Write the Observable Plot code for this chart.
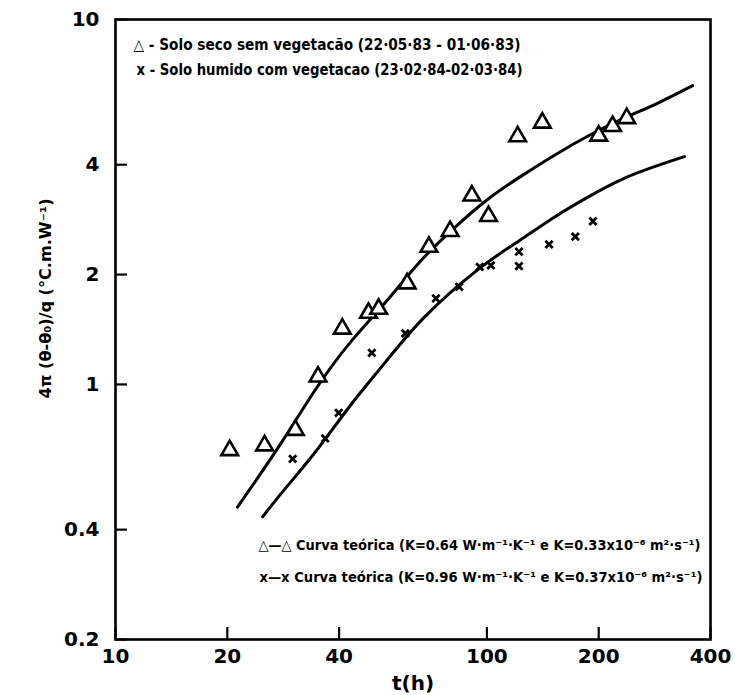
<!DOCTYPE html>
<html>
<head>
<meta charset="utf-8">
<script src="https://cdn.jsdelivr.net/npm/d3@7"></script>
<script src="https://cdn.jsdelivr.net/npm/@observablehq/plot@0.6"></script>
<style>
  body { margin: 0; background: #fff; }
  #chart svg { overflow: visible; }
</style>
</head>
<body>
<div id="chart"></div>
<script>
// Axis ticks (log-log)
const xTicks = [10, 20, 40, 100, 200, 400];
const yTicks = [0.2, 0.4, 1, 2, 4, 10];

// Solo seco sem vegetação (22-05-83 a 01-06-83): tempo (h) e 4π(θ-θ0)/q
const secoT = [20.3, 25.2, 30.5, 35.1, 40.8, 48.0, 51.1, 61.0, 69.8, 79.6, 91.1, 101, 121, 141, 200, 218, 238];
const secoV = [0.66, 0.68, 0.75, 1.05, 1.42, 1.57, 1.61, 1.89, 2.38, 2.63, 3.29, 2.89, 4.78, 5.21, 4.80, 5.10, 5.36];

// Solo húmido com vegetação (23-02-84 a 02-03-84)
const humidoT = [30.0, 36.7, 39.9, 49.0, 60.3, 72.9, 84.2, 95.7, 102.5, 122, 122, 147, 173, 193];
const humidoV = [0.625, 0.711, 0.836, 1.22, 1.38, 1.72, 1.85, 2.10, 2.12, 2.31, 2.11, 2.42, 2.54, 2.80];

// Curvas teóricas
const teoSecoT = [21.3, 28.2, 34.9, 43.3, 53.4, 65.9, 81.7, 100.6, 123.9, 153.4, 188.9, 232.2, 287.5, 358];
const teoSecoV = [0.461, 0.696, 0.994, 1.334, 1.668, 2.19, 2.69, 3.24, 3.73, 4.28, 4.83, 5.36, 5.87, 6.59];
const teoHumidoT = [24.9, 28.1, 34.7, 43.1, 53.1, 65.5, 95.7, 122.9, 152.4, 187.5, 230.8, 285.6, 340.4];
const teoHumidoV = [0.434, 0.508, 0.651, 0.889, 1.141, 1.50, 2.11, 2.48, 2.89, 3.27, 3.67, 3.97, 4.21];

// Texts
const yTitle = "4π (θ-θ₀)/q (°C.m.W⁻¹)";
const xTitle = "t(h)";
const legendSeco = "△ - Solo seco sem vegetacão (22·05·83 - 01·06·83)";
const legendHumido = "x - Solo humido com vegetacao (23·02·84-02·03·84)";
const curvaSeco = "△—△ Curva teórica (K=0.64 W·m⁻¹·K⁻¹ e K=0.33x10⁻⁶ m²·s⁻¹)";
const curvaHumido = "x—x Curva teórica (K=0.96 W·m⁻¹·K⁻¹ e K=0.37x10⁻⁶ m²·s⁻¹)";

const toRows = (ts, vs) => ts.map((t, i) => ({t, v: vs[i]}));
const seco = toRows(secoT, secoV);
const humido = toRows(humidoT, humidoV);
const teoSeco = toRows(teoSecoT, teoSecoV);
const teoHumido = toRows(teoHumidoT, teoHumidoV);

const narrow = "'DejaVu Sans Condensed', 'DejaVu Sans'";

// a single line of text anchored to the top-left corner of the frame
const note = (s, dx, dy, size) => Plot.text([s], {
  frameAnchor: "top-left", dx, dy, text: d => d, textAnchor: "start",
  lineAnchor: "middle", fontSize: size, fontFamily: narrow, fontWeight: "bold", fill: "#000"
});

const chart = Plot.plot({
  width: 740,
  height: 695,
  marginLeft: 115,
  marginRight: 30,
  marginTop: 19,
  marginBottom: 56,
  style: {fontFamily: "DejaVu Sans", fontWeight: "bold", color: "#000", background: "#fff"},
  x: {type: "log", domain: [10, 400]},
  y: {type: "log", domain: [0.2, 10]},
  marks: [
    Plot.frame({stroke: "#000", strokeWidth: 2.6}),
    // inward tick marks
    Plot.axisX({ticks: xTicks, tickSize: 12, dy: -12, strokeWidth: 2.2, tickFormat: () => "", label: null}),
    Plot.axisY({ticks: yTicks, tickSize: 12, dx: 12, strokeWidth: 2.2, tickFormat: () => "", label: null}),
    // tick labels
    Plot.axisX({ticks: xTicks, tickSize: 0, tickPadding: 9, tickFormat: d => String(d), fontSize: 20,
      label: xTitle, labelAnchor: "center", labelArrow: "none", labelOffset: 50}),
    Plot.axisY({ticks: yTicks, tickSize: 0, tickPadding: 16, tickFormat: d => String(d), fontSize: 20, label: null}),
    // y title, rotated
    Plot.text([yTitle], {frameAnchor: "left", dx: -70, dy: -31, rotate: -90, text: d => d, textAnchor: "middle",
      fontSize: 16, fontFamily: narrow, fontWeight: "bold", fill: "#000"}),
    // theoretical curves
    Plot.line(teoSeco, {x: "t", y: "v", curve: "basis", stroke: "#000", strokeWidth: 3}),
    Plot.line(teoHumido, {x: "t", y: "v", curve: "basis", stroke: "#000", strokeWidth: 3}),
    // measurements
    Plot.dot(seco, {x: "t", y: "v", symbol: "triangle", r: 6.2, stroke: "#000", strokeWidth: 2.6, fill: "#fff"}),
    Plot.dot(humido, {x: "t", y: "v", symbol: "times", r: 3.4, stroke: "#000", strokeWidth: 2.8}),
    // legends
    note(legendSeco, 18, 26, 15.5),
    note(legendHumido, 21, 51, 15.5),
    note(curvaSeco, 143, 526, 14.5),
    note(curvaHumido, 144, 558, 14.5)
  ]
});

// narrow lettering: fit the legend lines and the y title to their set widths
const widths = new Map([[legendSeco, 387], [legendHumido, 386], [curvaSeco, 442], [curvaHumido, 443], [yTitle, 200]]);
d3.select(chart).selectAll("text").each(function () {
  const w = widths.get(this.textContent);
  if (w) {
    this.setAttribute("textLength", w);
    this.setAttribute("lengthAdjust", "spacingAndGlyphs");
  }
});

document.getElementById("chart").append(chart);
</script>
</body>
</html>
